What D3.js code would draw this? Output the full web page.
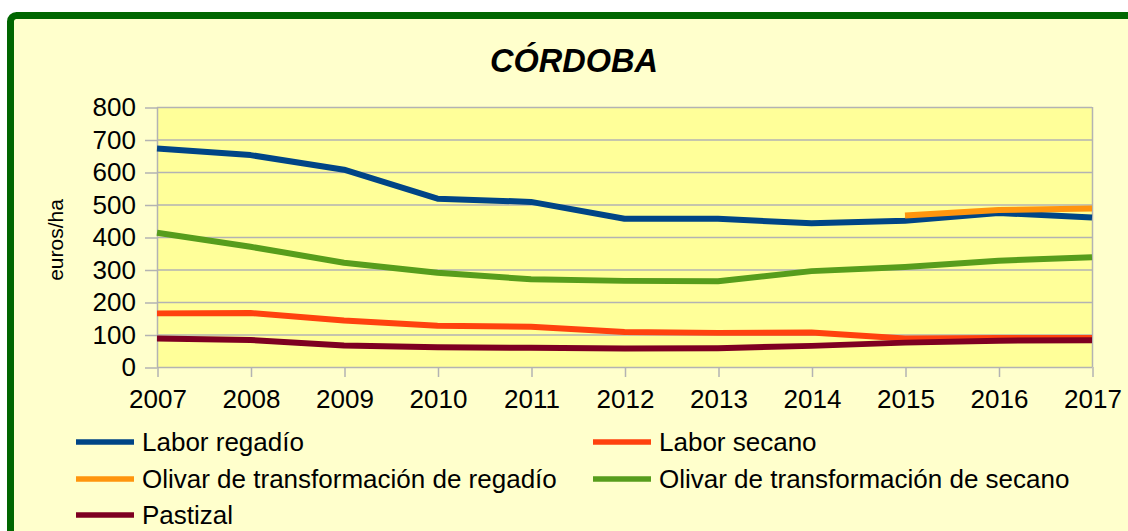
<!DOCTYPE html>
<html lang="es">
<head>
<meta charset="UTF-8">
<title>Córdoba</title>
<script src="https://cdn.jsdelivr.net/npm/d3@7"></script>
<style>
    body { margin: 0; background: #fff; }
    svg { display: block; font-family: "Liberation Sans", Arial, sans-serif; }
    .axis path { display: none; }
    .axis line { stroke: #b3b3b3; }
    .axis text { font-size: 26px; fill: #000; }
</style>
</head>
<body>
<script>
    const years = [2007, 2008, 2009, 2010, 2011, 2012, 2013, 2014, 2015, 2016, 2017];
    const laborRegadio = [672, 652, 607, 518, 508, 456, 456, 442, 450, 474, 460];
    const laborSecano = [165, 166, 143, 127, 124, 108, 105, 106, 88, 89, 89];
    const olivarRegadio = [null, null, null, null, null, null, null, null, 466, 483, 488];
    const olivarSecano = [413, 370, 321, 290, 270, 265, 264, 295, 308, 327, 338];
    const pastizal = [88, 83, 66, 61, 59, 57, 58, 65, 75, 81, 82];

    const seriesNames = ["Labor regadío", "Labor secano", "Olivar de transformación de regadío",
        "Olivar de transformación de secano", "Pastizal"];
    const seriesColors = ["#004586", "#ff420e", "#ff950e", "#579d1c", "#7e0021"];
    const seriesValues = [laborRegadio, laborSecano, olivarRegadio, olivarSecano, pastizal];
    const yTicks = [0, 100, 200, 300, 400, 500, 600, 700, 800];

    const width = 1128, height = 531;
    const plot = { left: 157, right: 1092, top: 107, bottom: 367 };

    let svg = d3.select("body").append("svg")
        .attr("width", width)
        .attr("height", height);

    // outer frame
    svg.append("rect")
        .attr("x", 10.5).attr("y", 15.5)
        .attr("width", 1140).attr("height", 540)
        .attr("rx", 6)
        .attr("fill", "#ffffcc")
        .attr("stroke", "#006600")
        .attr("stroke-width", 7);

    svg.append("text")
        .attr("x", 574).attr("y", 72)
        .attr("text-anchor", "middle")
        .style("font-size", "32.5px")
        .style("font-weight", "bold")
        .style("font-style", "italic")
        .text("CÓRDOBA");

    let x = d3.scalePoint().domain(years).range([plot.left, plot.right]);
    let y = d3.scaleLinear().domain([0, 800]).range([plot.bottom, plot.top]);

    svg.append("rect")
        .attr("x", plot.left).attr("y", plot.top)
        .attr("width", plot.right - plot.left)
        .attr("height", plot.bottom - plot.top)
        .attr("fill", "#ffff99");

    // gridlines
    svg.append("g")
        .selectAll("line")
        .data(yTicks)
        .enter()
        .append("line")
        .attr("x1", plot.left).attr("x2", plot.right)
        .attr("y1", d => y(d) + 0.5).attr("y2", d => y(d) + 0.5)
        .attr("stroke", "#b3b3b3")
        .attr("stroke-width", 1.5);

    svg.append("line")
        .attr("x1", plot.left + 0.5).attr("x2", plot.left + 0.5)
        .attr("y1", plot.top).attr("y2", plot.bottom)
        .attr("stroke", "#b3b3b3").attr("stroke-width", 1.5);
    svg.append("line")
        .attr("x1", plot.right + 0.5).attr("x2", plot.right + 0.5)
        .attr("y1", plot.top).attr("y2", plot.bottom)
        .attr("stroke", "#b3b3b3").attr("stroke-width", 1.5);

    svg.append("g")
        .attr("class", "axis")
        .attr("transform", `translate(${plot.left}, 0.5)`)
        .call(d3.axisLeft(y).tickValues(yTicks).tickSize(12).tickPadding(9))
        .selectAll("line").attr("stroke-width", 1.5);

    svg.append("g")
        .attr("class", "axis")
        .attr("transform", `translate(0.5, ${plot.bottom})`)
        .call(d3.axisBottom(x).tickSize(10).tickPadding(13))
        .selectAll("line").attr("stroke-width", 1.5);

    svg.append("text")
        .attr("transform", `translate(63, 240) rotate(-90)`)
        .attr("text-anchor", "middle")
        .style("font-size", "21px")
        .text("euros/ha");

    let line = d3.line()
        .defined(d => d.v != null)
        .x(d => x(d.year))
        .y(d => y(d.v));

    seriesValues.forEach(function(vals, i) {
        svg.append("path")
            .datum(vals.map((v, j) => ({ year: years[j], v: v })))
            .attr("d", line)
            .attr("fill", "none")
            .attr("stroke", seriesColors[i])
            .attr("stroke-width", 6)
            .attr("stroke-linejoin", "round");
    });

    // legend, two columns
    const legendCols = [76, 593];
    const legendRows = [442, 479, 515];
    seriesNames.forEach(function(name, i) {
        const lx = legendCols[i % 2];
        const ly = legendRows[Math.floor(i / 2)];
        svg.append("line")
            .attr("x1", lx).attr("x2", lx + 58)
            .attr("y1", ly).attr("y2", ly)
            .attr("stroke", seriesColors[i])
            .attr("stroke-width", 5.5);
        svg.append("text")
            .attr("x", lx + 66).attr("y", ly)
            .attr("dy", "0.35em")
            .style("font-size", "26px")
            .text(name);
    });
</script>
</body>
</html>
